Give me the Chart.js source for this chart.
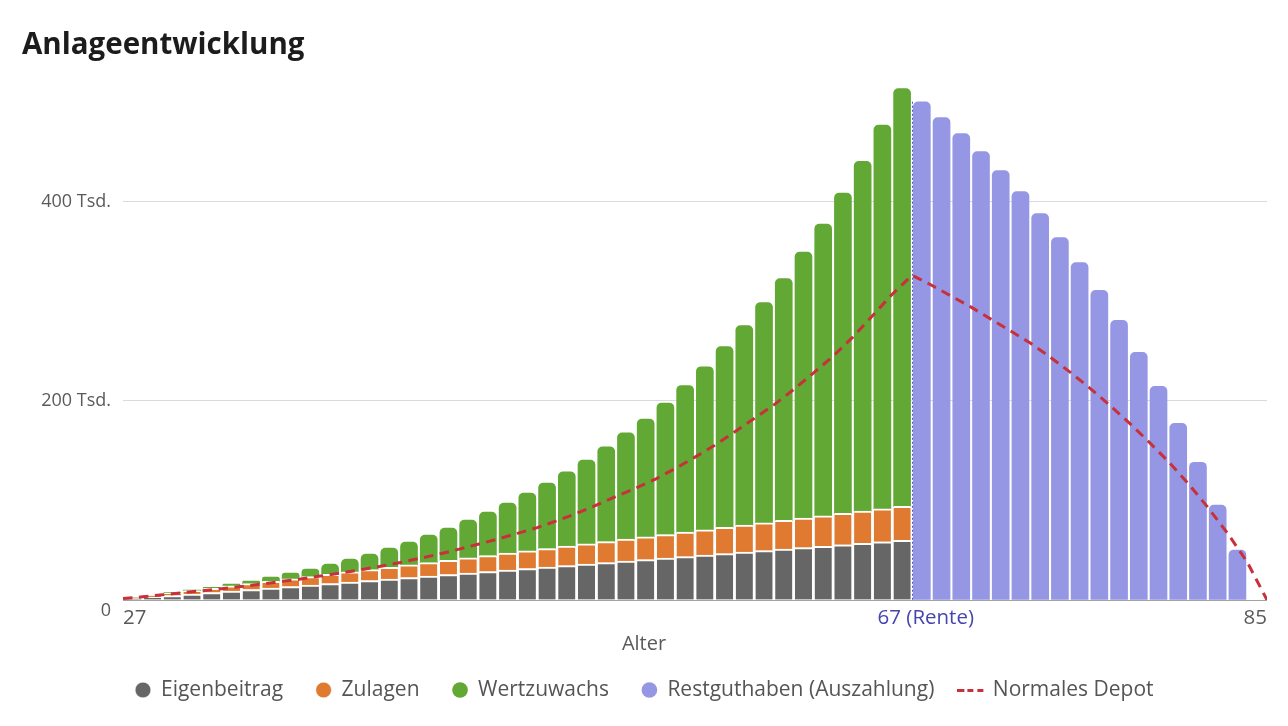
<!DOCTYPE html>
<html><head><meta charset="utf-8">
<script src="https://cdn.jsdelivr.net/npm/chart.js@4"></script>
<style>html,body{margin:0;padding:0;background:#fff;}canvas{display:block}</style>
</head><body>
<canvas id="c" width="1288" height="726"></canvas>
<script>
// ---- data (values in thousand EUR) ----
const ansparAlter = [27,28,29,30,31,32,33,34,35,36,37,38,39,40,41,42,43,44,45,46,47,48,49,50,51,52,53,54,55,56,57,58,59,60,61,62,63,64,65,66];
const eigenbeitrag = [1.5,3,4.5,6,7.5,9,10.5,12,13.5,15,16.5,18,19.5,21,22.5,24,25.5,27,28.5,30,31.5,33,34.5,36,37.5,39,40.5,42,43.5,45,46.5,48,49.5,51,52.5,54,55.5,57,58.5,60];
const zulagen = [0.85,1.7,2.55,3.4,4.25,5.1,5.95,6.8,7.65,8.5,9.35,10.2,11.05,11.9,12.75,13.6,14.45,15.3,16.15,17,17.85,18.7,19.55,20.4,21.25,22.1,22.95,23.8,24.65,25.5,26.35,27.2,28.05,28.9,29.75,30.6,31.45,32.3,33.15,34];
const wertzuwachs = [0.1,0.1,0.3,0.6,1.0,1.9,2.6,4.3,6.0,7.6,10.3,12.9,15.6,19.2,22.9,27.6,32.3,37.9,43.6,50.2,58.0,65.6,74.6,84.0,94.9,106.6,118.1,132.0,147.2,163.7,181.6,200.2,221.0,242.7,267.1,292.7,321.5,351.1,385.0,419.4];
const auszahlAlter = [67,68,69,70,71,72,73,74,75,76,77,78,79,80,81,82,83];
const restguthaben = [500.2,484.2,468.2,450.1,431.1,410.0,388.0,363.9,338.8,310.8,280.7,248.6,214.5,177.4,138.3,95.2,50.1];
const depotAlter = [27,28,29,30,31,32,33,34,35,36,37,38,39,40,41,42,43,44,45,46,47,48,49,50,51,52,53,54,55,56,57,58,59,60,61,62,63,64,65,66,67,68,69,70,71,72,73,74,75,76,77,78,79,80,81,82,83,84,85];
const normalesDepot = [1.5,3.2,5.2,7.3,9.3,11.3,13.5,16,18.6,21,24,27,30.2,33.6,37.4,41.6,46,50.8,56,61.2,66.9,72.7,79.5,87,95.3,104,112.3,121.4,132,143.4,155.3,168.6,182.2,195.9,211.3,227.8,244.7,263.9,285.4,307,326,316,305,294,282,270,258,244,229,213,196,178,159,139,117,93,67,38,0];
const xTickValues = [27, 67, 85];
const xTickLabels = ['27', '67 (Rente)', '85'];
const yTickValues = [0, 200, 400];
const yTickLabels = ['0', '200 Tsd.', '400 Tsd.'];
const seriesNames = ['Eigenbeitrag', 'Zulagen', 'Wertzuwachs', 'Restguthaben (Auszahlung)', 'Normales Depot'];

// ---- styles ----
const GREY = '#666666', ORANGE = '#df7a30', GREEN = '#62a834', PURPLE = '#9597e5', RED = '#c8303c';
const FONT = '"Open Sans", "Noto Sans", sans-serif';

function dashImage() {
  const c = document.createElement('canvas');
  c.width = 35; c.height = 3;
  const g = c.getContext('2d');
  g.fillStyle = RED;
  [[0,7],[10,16],[20,26]].forEach(([a,b]) => g.fillRect(a, 0, b - a, 3));
  return c;
}

const barPts = (ages, vals) => ages.map((a, i) => ({x: a + 0.5, y: vals[i]}));
const segBorder = {top: 2, right: 0, bottom: 0, left: 0};
const roundTop = {topLeft: 5, topRight: 5, bottomLeft: 0, bottomRight: 0};

const extras = {
  id: 'extras',
  afterDatasetsDraw(chart) {
    const {ctx, scales: {x, y}} = chart;
    const px = Math.round(x.getPixelForValue(auszahlAlter[0])) + 0.5;
    ctx.save();
    ctx.strokeStyle = '#4f4fc9';
    ctx.lineWidth = 1;
    ctx.setLineDash([2, 2]);
    ctx.beginPath();
    ctx.moveTo(px, y.getPixelForValue(restguthaben[0]));
    ctx.lineTo(px, y.getPixelForValue(0));
    ctx.stroke();
    ctx.restore();
  },
  afterDraw(chart) {
    const {ctx} = chart;
    ctx.save();
    ctx.font = '20px ' + FONT;
    ctx.fillStyle = '#5a5a5a';
    ctx.textAlign = 'center';
    ctx.textBaseline = 'middle';
    ctx.fillText('Alter', 644, 644);
    ctx.restore();
  }
};

new Chart(document.getElementById('c'), {
  type: 'bar',
  data: {
    datasets: [
      {label: seriesNames[0], data: barPts(ansparAlter, eigenbeitrag), backgroundColor: GREY, borderColor: '#ffffff', borderWidth: segBorder, borderSkipped: 'start', pointStyle: 'circle', order: 1},
      {label: seriesNames[1], data: barPts(ansparAlter, zulagen), backgroundColor: ORANGE, borderColor: '#ffffff', borderWidth: segBorder, borderSkipped: 'start', pointStyle: 'circle', order: 1},
      {label: seriesNames[2], data: barPts(ansparAlter, wertzuwachs), backgroundColor: GREEN, borderWidth: 0, borderRadius: roundTop, pointStyle: 'circle', order: 1},
      {label: seriesNames[3], data: barPts(auszahlAlter, restguthaben), backgroundColor: PURPLE, borderWidth: 0, borderRadius: roundTop, pointStyle: 'circle', order: 1},
      {type: 'line', label: seriesNames[4], data: depotAlter.map((a, i) => ({x: a, y: normalesDepot[i]})), borderColor: RED, backgroundColor: RED, borderWidth: 3, borderDash: [9.5, 6.5], pointRadius: 0, pointHoverRadius: 0, pointStyle: dashImage(), tension: 0, fill: false, stack: 'depot', order: 0}
    ]
  },
  options: {
    responsive: false,
    devicePixelRatio: 1,
    animation: false,
    datasets: {bar: {barThickness: 17, grouped: false}},
    layout: {padding: {left: 22, right: 21, top: 0, bottom: 15.5}},
    scales: {
      x: {
        type: 'linear', stacked: true, min: 27, max: 85, offset: false,
        grid: {display: false, drawTicks: false},
        border: {display: false},
        afterBuildTicks(scale) {
          scale.ticks = xTickValues.map((v, i) => ({value: (i === 0 || i === xTickValues.length - 1) ? v : v + 0.7}));
        },
        afterFit(scale) { scale.height = 46.5; },
        ticks: {
          autoSkip: false, maxRotation: 0, align: 'inner', padding: 5.7,
          font: {family: FONT, size: 20.5},
          color: (c) => (c.index === 1 ? '#4545b0' : '#5a5a5a'),
          callback: (v, i) => xTickLabels[i]
        }
      },
      y: {
        stacked: true, min: 0, max: 514,
        grid: {drawTicks: false, color: (c) => (c.tick && c.tick.value === 0 ? '#a3a3a3' : '#dadada'), lineWidth: 1},
        border: {display: false},
        afterBuildTicks(scale) { scale.ticks = yTickValues.map(v => ({value: v})); },
        afterFit(scale) { scale.width = 101; },
        ticks: {
          padding: 12,
          font: {family: FONT, size: 18},
          color: '#5a5a5a',
          callback: (v, i) => (i === 0 ? ['', yTickLabels[0]] : yTickLabels[i])
        }
      }
    },
    plugins: {
      title: {
        display: true, text: 'Anlageentwicklung', align: 'start', color: '#1c1c1c',
        font: {family: FONT, size: 29.5, weight: '700'},
        padding: {top: 28, bottom: 24.6}
      },
      legend: {
        position: 'bottom',
        labels: {
          usePointStyle: true, boxWidth: 15, boxHeight: 11.1, padding: 33,
          color: '#555555', font: {family: FONT, size: 21},
          sort: (a, b) => a.datasetIndex - b.datasetIndex
        }
      },
      tooltip: {enabled: false}
    }
  },
  plugins: [extras]
});
</script>
</body></html>
